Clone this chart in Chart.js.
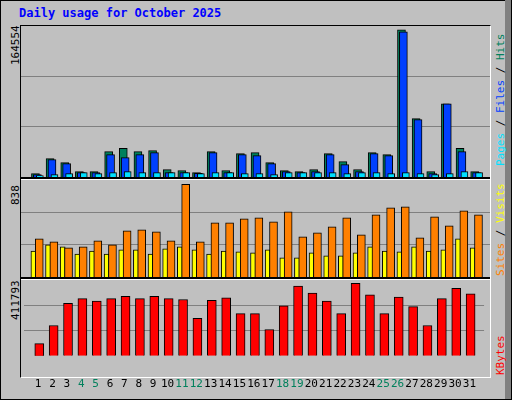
<!DOCTYPE html>
<html><head><meta charset="utf-8">
<script src="https://cdn.jsdelivr.net/npm/chart.js@4"></script>
<style>
body{margin:0;width:512px;height:400px;background:#fff;overflow:hidden}
#box{position:absolute;left:0;top:0;width:510px;height:398px;border:1px solid #000;background:#c0c0c0}
.t{position:absolute;font-family:"DejaVu Sans Mono",monospace;font-size:12px}
.frame{position:absolute;left:20px;top:25px;width:469px;height:351px;border-left:1px solid #000;border-top:1px solid #000;border-right:1px solid #fff;border-bottom:1px solid #fff}
.sep{position:absolute;left:21px;width:469px;height:2px;background:#000;border-bottom:1px solid #fff}
canvas{position:absolute}
.rot{position:absolute;transform:rotate(-90deg);transform-origin:left top;white-space:nowrap;font-family:"DejaVu Sans Mono",monospace;font-size:11px}
#edge{position:absolute;left:505px;top:0;width:6px;height:399px;background:#808080}
</style></head><body>
<div id="box"></div><div id="edge"></div>
<div class="t" style="left:19px;top:6px;color:#0000ff;font-weight:bold">Daily usage for October 2025</div>
<div class="frame"></div>
<div class="sep" style="top:177px"></div>
<div class="sep" style="top:277px"></div>
<div class="rot" style="left:9px;top:65px">164554</div>
<div class="rot" style="left:9px;top:205px">838</div>
<div class="rot" style="left:9px;top:320px">411793</div>
<div class="rot" style="left:494px;top:166px"><span style="color:#00e0ff">Pages</span> / <span style="color:#0040ff">Files</span> / <span style="color:#00805c">Hits</span></div>
<div class="rot" style="left:494px;top:276px"><span style="color:#ff8000">Sites</span> / <span style="color:#ffff00">Visits</span></div>
<div class="rot" style="left:494px;top:375px"><span style="color:#ff0000">KBytes</span></div>
<canvas id="c1" style="left:21px;top:26px;width:469px;height:151px"></canvas>
<canvas id="c2" style="left:21px;top:180px;width:469px;height:97px"></canvas>
<canvas id="c3" style="left:21px;top:280px;width:469px;height:125px"></canvas>
<script>
const days = Array.from({length: 31}, (_, i) => i + 1);
const weekends = [4, 5, 11, 12, 18, 19, 25, 26];
const hitsMax = 164554, visitsMax = 838, kbytesMax = 411793;
const hits = [3630,19970,15610,5810,5810,27590,31220,27590,28680,7990,6900,4720,27590,6900,25410,26500,15610,6900,5810,7990,25410,16700,7990,26500,24320,160450,63530,5810,79870,31220,5810];
const files = [2540,18880,14520,4720,4720,24320,21060,24320,26500,4720,4720,3990,26500,4720,24320,23230,14520,5810,4720,5810,24320,13430,5810,25410,23230,158270,62440,3630,79870,27590,4720];
const pages = [1450,2540,3630,4720,3630,4720,5810,4720,4720,4720,4720,3630,4720,4720,3630,3630,2540,4720,4720,4720,4720,3630,4720,4720,3630,4720,3630,2540,3630,5810,4720];
const visits = [329,303,251,260,312,277,399,407,390,312,800,303,468,468,503,511,477,563,347,381,433,511,364,537,598,607,338,520,442,572,537];
const sites = [225,277,260,199,225,199,234,234,199,243,260,234,199,225,217,208,234,165,165,208,182,182,208,260,225,217,260,225,234,329,251];
const kbytes = [65780,164450,284570,310310,297440,310310,323180,310310,323180,310310,306020,203060,301730,314600,228800,228800,143000,271700,378950,340340,297440,228800,393250,331760,228800,318890,267410,164450,310310,366080,336050];

Chart.defaults.animation = false;
Chart.defaults.font.family = 'DejaVu Sans Mono';

function set(values, off, color, width, order) {
  return {
    data: values.map((v, i) => ({x: days[i] + off, y: v})),
    backgroundColor: color, borderColor: '#000', borderWidth: 1,
    barThickness: width, grouped: false, order: order
  };
}

function panel(id, datasets, max, showX) {
  new Chart(document.getElementById(id), {
    type: 'bar',
    data: {datasets},
    options: {
      responsive: false, maintainAspectRatio: false,
      layout: {padding: 0},
      plugins: {legend: {display: false}, tooltip: {enabled: false}},
      scales: {
        x: {
          type: 'linear', min: 0.5, max: 31.5, display: showX,
          grid: {display: false}, border: {display: false},
          afterBuildTicks: (s) => { s.ticks = days.map(d => ({value: d})); },
          ticks: {
            autoSkip: false, maxRotation: 0, padding: 14,
            font: {size: 11},
            color: (c) => weekends.includes(c.tick.value) ? '#00805c' : '#000'
          }
        },
        y: {
          min: 0, max: max,
          afterBuildTicks: (s) => { s.ticks = [{value: max / 3}, {value: max * 2 / 3}]; },
          ticks: {display: false},
          grid: {color: '#808080', lineWidth: 1, drawTicks: false},
          border: {display: false}
        }
      }
    }
  });
}

panel('c1', [
  set(hits, -0.03, '#00805c', 8, 3),
  set(files, 0.1, '#0040ff', 8, 2),
  set(pages, 0.27, '#00e0ff', 7, 1)
], hitsMax, false);
panel('c2', [
  set(sites, -0.17, '#ffff00', 5, 2),
  set(visits, 0.23, '#ff8000', 8, 1)
], visitsMax, false);
panel('c3', [
  set(kbytes, 0.08, '#ff0000', 9, 1)
], kbytesMax, true);
</script>
</body></html>
